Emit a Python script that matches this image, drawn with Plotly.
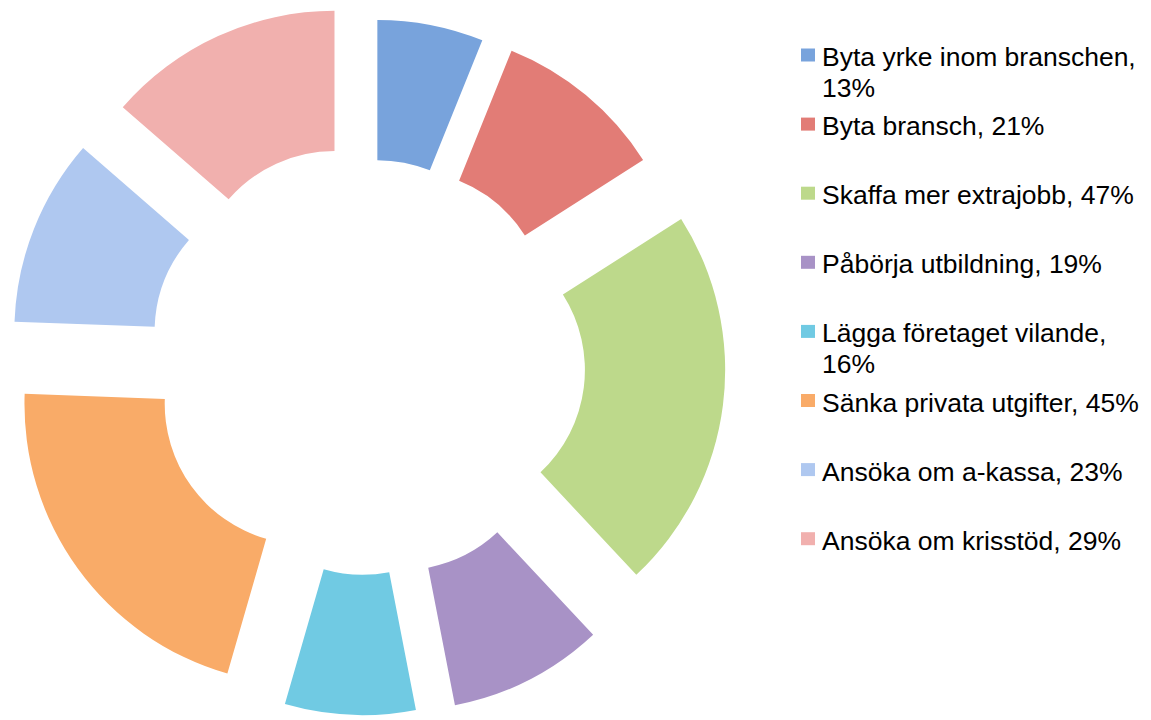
import plotly.graph_objects as go

categories = [
    "Byta yrke inom branschen",
    "Byta bransch",
    "Skaffa mer extrajobb",
    "Påbörja utbildning",
    "Lägga företaget vilande",
    "Sänka privata utgifter",
    "Ansöka om a-kassa",
    "Ansöka om krisstöd",
]
values = [13, 21, 47, 19, 16, 45, 23, 29]
wrap_after_comma = [True, False, False, False, True, False, False, False]

colors = ["#78a3dc", "#e27c76", "#bdd98b", "#a892c6", "#70cae3", "#f9ab68", "#afc8f0", "#f1b0ae"]
pulls = [0.2164, 0.2278, 0.2834, 0.28, 0.266, 0.2677, 0.272, 0.269]

fig = go.Figure()
fig.add_trace(go.Pie(
    labels=categories,
    values=values,
    hole=0.5,
    sort=False,
    direction="clockwise",
    rotation=0,
    pull=pulls,
    textinfo="none",
    hoverinfo="label+value",
    marker=dict(colors=colors, line=dict(width=0)),
    domain=dict(x=[0, 0.6356], y=[0, 1]),
    showlegend=False,
))

# Manual legend (square marker + label lines), positioned in pixels
W, H = 1151, 720
font = dict(family="Helvetica, Arial, Liberation Sans, sans-serif", size=26.5, color="#000000")
shapes = []
annotations = []
for i, (cat, v) in enumerate(zip(categories, values)):
    yc = 57 + 69.1 * i
    shapes.append(dict(
        type="rect", xref="paper", yref="paper",
        x0=801 / W, x1=815 / W,
        y0=1 - (yc - 8.5) / H, y1=1 - (yc + 4.5) / H,
        fillcolor=colors[i], line=dict(width=0),
    ))
    lines = [cat + ","] + [f"{v}%"] if wrap_after_comma[i] else [f"{cat}, {v}%"]
    for j, line in enumerate(lines):
        annotations.append(dict(
            xref="paper", yref="paper",
            x=820 / W, y=1 - (yc + 31 * j) / H,
            xanchor="left", yanchor="middle",
            text=line, showarrow=False, font=font,
        ))

fig.update_layout(
    width=W, height=H,
    margin=dict(l=0, r=0, t=0, b=0),
    paper_bgcolor="white",
    plot_bgcolor="white",
    shapes=shapes,
    annotations=annotations,
)

fig.write_html("out.html")
